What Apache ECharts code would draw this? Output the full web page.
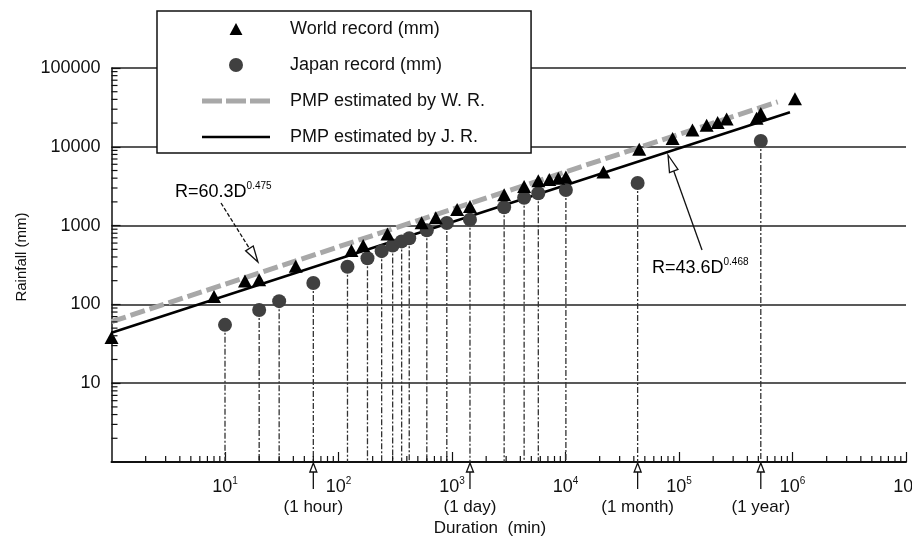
<!DOCTYPE html>
<html><head><meta charset="utf-8">
<script src="https://cdn.jsdelivr.net/npm/echarts@6/dist/echarts.min.js"></script>
<style>html,body{margin:0;padding:0;background:#fff}#c{width:912px;height:545px}</style>
</head><body><div id="c"></div>
<script>
// ---- data (duration in minutes, rainfall in mm) ----
const worldDuration = [1, 8, 15, 20, 42, 130, 165, 270, 540, 720, 1110, 1440, 2880, 4320, 5760, 7200, 8640, 10080, 21600, 44640, 87840, 131400, 175200, 219000, 262800, 482400, 525600, 1051200];
const worldRainfall = [38, 126, 198, 206, 305, 483, 559, 782, 1087, 1260, 1600, 1750, 2467, 3130, 3721, 3850, 4000, 4150, 4798, 9300, 12767, 16369, 18738, 20412, 22454, 22990, 26461, 40768];
const japanDuration = [10, 20, 30, 60, 120, 180, 240, 300, 360, 420, 600, 900, 1440, 2880, 4320, 5760, 10080, 43200, 525600];
const japanRainfall = [55, 85, 110, 187, 300, 385, 474, 560, 630, 690, 870, 1080, 1190, 1710, 2260, 2570, 2830, 3470, 11850];
const pmpWorldDuration = [1, 740000];
const pmpWorldRainfall = [60.3, 37200];
const pmpJapanDuration = [1, 950000];
const pmpJapanRainfall = [43.6, 27400];
const seriesNames = ['World record (mm)', 'Japan record (mm)', 'PMP estimated by W. R.', 'PMP estimated by J. R.'];
const refDuration = [60, 1440, 43200, 525600];
const refLabels = ['(1 hour)', '(1 day)', '(1 month)', '(1 year)'];
const minorMultipliers = [2, 3, 4, 5, 6, 7, 8, 9];
const xDecades = [1, 10, 100, 1000, 10000, 100000, 1000000];
const yDecades = [1, 10, 100, 1000, 10000];

const FONT = '"Liberation Sans", Arial, Helvetica, sans-serif';
const INK = '#111';
const chart = echarts.init(document.getElementById('c'));

const xMinor = [], yMinor = [];
xDecades.forEach(d => minorMultipliers.forEach(m => xMinor.push([d * m, 1, 0])));
yDecades.forEach(d => minorMultipliers.forEach(m => yMinor.push([1, d * m, 1])));

const supRich = {
  b: {fontSize: 18, fontFamily: FONT, color: INK, lineHeight: 22},
  s: {fontSize: 10, fontFamily: FONT, color: INK, lineHeight: 10, verticalAlign: 'top'}
};

const legendIcons = [
  'path://M0,-1 M6,0L12,11L0,11Z M0,12',
  'circle',
  'path://M0,0h20v5h-20z M24,0h20v5h-20z M48,0h20v5h-20z',
  'path://M0,0h68v2.5h-68z'
];

chart.setOption({
  animation: false,
  backgroundColor: '#fff',
  grid: {left: 111.5, right: 6, top: 68, bottom: 83, containLabel: false, outerBoundsMode: 'none'},
  xAxis: {
    type: 'log', logBase: 10, min: 1, max: 1e7,
    axisLine: {show: true, lineStyle: {color: INK, width: 2}},
    axisTick: {show: true, inside: true, length: 10, lineStyle: {color: INK, width: 1.2}},
    axisLabel: {margin: 14, showMinLabel: false, hideOverlap: false,
      formatter: v => '{b|10}{s|' + Math.round(Math.log10(v)) + '}', rich: supRich},
    splitLine: {show: false}, minorTick: {show: false}
  },
  yAxis: {
    type: 'log', logBase: 10, min: 1, max: 1e5,
    axisLine: {show: true, lineStyle: {color: INK, width: 1.5}},
    axisTick: {show: true, inside: true, length: 9, lineStyle: {color: INK, width: 1.2}},
    axisLabel: {margin: 11, showMinLabel: false, fontSize: 18, fontFamily: FONT, color: INK,
      formatter: v => String(Math.round(v))},
    splitLine: {show: true, lineStyle: {color: '#222', width: 1.5}}
  },
  legend: {
    orient: 'vertical', left: 157, top: 11,
    padding: [8, 46, 6, 45],
    itemWidth: 68, itemHeight: 14, itemGap: 16,
    symbolKeepAspect: true,
    backgroundColor: '#fff', borderColor: INK, borderWidth: 1.5, borderRadius: 0,
    itemStyle: {borderWidth: 0},
    textStyle: {fontSize: 18, fontFamily: FONT, color: INK, lineHeight: 20, padding: [0, 0, 0, 15]},
    data: seriesNames.map((n, i) => ({name: n, icon: legendIcons[i]}))
  },
  series: [
    {
      type: 'custom', name: 'drop', silent: true, z: 1,
      data: japanDuration.map((d, i) => [d, japanRainfall[i]]),
      renderItem: (params, api) => {
        const top = api.coord([api.value(0), api.value(1)]);
        const bot = api.coord([api.value(0), 1]);
        return {type: 'line', shape: {x1: top[0], y1: top[1], x2: bot[0], y2: bot[1]},
          style: {stroke: '#333', lineWidth: 1.3, lineDash: [6, 2, 2, 2]}};
      }
    },
    {
      type: 'line', name: seriesNames[2], z: 2, symbol: 'none', silent: true,
      data: pmpWorldDuration.map((d, i) => [d, pmpWorldRainfall[i]]),
      lineStyle: {color: '#a8a8a8', width: 5, type: [15, 5]}, itemStyle: {color: '#a8a8a8'}
    },
    {
      type: 'line', name: seriesNames[3], z: 3, symbol: 'none', silent: true,
      data: pmpJapanDuration.map((d, i) => [d, pmpJapanRainfall[i]]),
      lineStyle: {color: '#000', width: 2.5}, itemStyle: {color: '#000'}
    },
    {
      type: 'scatter', name: seriesNames[1], z: 4, symbol: 'circle', symbolSize: 14,
      data: japanDuration.map((d, i) => [d, japanRainfall[i]]),
      itemStyle: {color: '#404040', opacity: 1}
    },
    {
      type: 'scatter', name: seriesNames[0], z: 5, symbol: 'triangle', symbolSize: [14, 13],
      data: worldDuration.map((d, i) => [d, worldRainfall[i]]),
      itemStyle: {color: '#000', opacity: 1}
    },
    {
      type: 'custom', name: 'minorTicks', silent: true, z: 6, clip: false,
      data: xMinor.concat(yMinor),
      renderItem: (params, api) => {
        const p = api.coord([api.value(0), api.value(1)]);
        const isY = api.value(2) === 1;
        return {type: 'line',
          shape: isY ? {x1: p[0], y1: p[1], x2: p[0] + 6, y2: p[1]} : {x1: p[0], y1: p[1], x2: p[0], y2: p[1] - 6},
          style: {stroke: INK, lineWidth: 1.2}};
      }
    }
  ]
});

// ---- annotations, anchored in data space ----
const P = (d, r) => chart.convertToPixel({gridIndex: 0}, [d, r]);
const g = [];
function arrow(a, b, head, half, dash) {
  const dx = b[0] - a[0], dy = b[1] - a[1], L = Math.hypot(dx, dy), ux = dx / L, uy = dy / L;
  const bx = b[0] - ux * head, by = b[1] - uy * head, nx = -uy, ny = ux;
  g.push({type: 'line', z: 50, silent: true, shape: {x1: a[0], y1: a[1], x2: bx, y2: by},
    style: {stroke: INK, lineWidth: 1.3, lineDash: dash || null}});
  g.push({type: 'polygon', z: 51, silent: true,
    shape: {points: [[b[0], b[1]], [bx + nx * half, by + ny * half], [bx - nx * half, by - ny * half]]},
    style: {fill: '#fff', stroke: INK, lineWidth: 1.3}});
}
function richText(pt, txt, exp) {
  g.push({type: 'text', z: 52, silent: true, x: pt[0], y: pt[1],
    style: {text: '{b|' + txt + '}{s|' + exp + '}', rich: supRich, align: 'left', verticalAlign: 'middle'}});
}
richText(P(3.63, 2670), 'R=60.3D', '0.475');
arrow(P(9.22, 1936), P(19.5, 345), 16, 4.5, [4, 2]);
richText(P(57800, 290), 'R=43.6D', '0.468');
arrow(P(159500, 490), P(80000, 7870), 17, 4.5, null);

refDuration.forEach((d, i) => {
  const base = P(d, 1);
  arrow([base[0], base[1] + 27], [base[0], base[1] + 1], 9, 3.5, null);
  g.push({type: 'text', z: 52, silent: true, x: base[0], y: base[1] + 45,
    style: {text: refLabels[i], fontSize: 17, fontFamily: FONT, fill: INK, align: 'center', verticalAlign: 'middle'}});
});
g.push({type: 'text', silent: true, x: 490, y: 528,
  style: {text: 'Duration  (min)', fontSize: 17, fontFamily: FONT, fill: INK, align: 'center', verticalAlign: 'middle'}});
g.push({type: 'text', silent: true, x: 22, y: 257, rotation: Math.PI / 2,
  style: {text: 'Rainfall (mm)', fontSize: 15, fontFamily: FONT, fill: INK, align: 'center', verticalAlign: 'middle'}});
chart.setOption({graphic: g});
</script>
</body></html>
